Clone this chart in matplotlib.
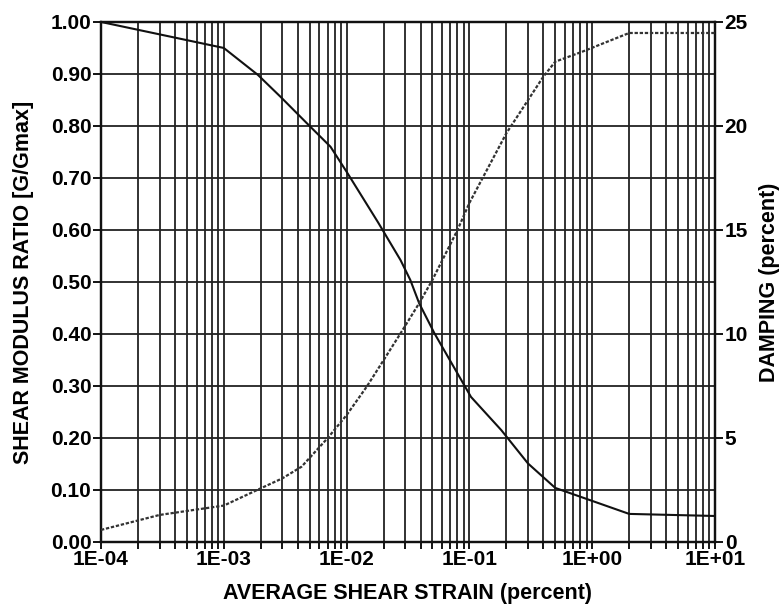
import numpy as np
import matplotlib.pyplot as plt
from matplotlib.ticker import LogLocator, FixedLocator, NullFormatter

# shear strain (percent) and modulus reduction
strain_g = [1e-4, 1e-3, 1.9e-3, 2.9e-3, 4.9e-3, 7.4e-3, 1e-2, 1.8e-2, 2.75e-2,
            3.3e-2, 3.9e-2, 5.2e-2, 1.03e-1, 1.82e-1, 3e-1, 5e-1, 2.0, 10.0]
g_ratio = [1.00, 0.95, 0.898, 0.856, 0.802, 0.760, 0.712, 0.615, 0.542,
           0.504, 0.459, 0.401, 0.279, 0.215, 0.151, 0.104, 0.054, 0.050]

# damping (percent)
strain_d = [1e-4, 3e-4, 1e-3, 2e-3, 3e-3, 4.3e-3, 7e-3, 1e-2, 1.46e-2, 1.89e-2,
            2.75e-2, 3.9e-2, 5e-2, 8e-2, 1e-1, 2e-1, 4e-1, 5e-1, 8.3e-1, 2.0, 10.0]
damping = [0.58, 1.3, 1.75, 2.58, 3.06, 3.62, 4.99, 6.1, 7.47, 8.51,
           10.03, 11.48, 12.6, 15.0, 16.3, 19.65, 22.37, 23.09, 23.57, 24.47, 24.47]

xticks = [1e-4, 1e-3, 1e-2, 1e-1, 1e0, 1e1]
xlabels = ["1E-04", "1E-03", "1E-02", "1E-01", "1E+00", "1E+01"]
yticks = np.round(np.arange(0, 1.01, 0.1), 2)
dticks = [0, 5, 10, 15, 20, 25]

plt.rcParams['font.family'] = ['Liberation Sans', 'DejaVu Sans']
plt.rcParams['font.weight'] = 'bold'

fig = plt.figure(figsize=(7.84, 6.10), dpi=100)
ax = fig.add_axes([0.1288, 0.1115, 0.912 - 0.1288, 0.964 - 0.1115])
ax2 = ax.twinx()

gc = '#222222'
ax.set_xscale('log')
ax.set_xlim(1e-4, 1e1)
ax.set_ylim(0, 1)
ax.xaxis.set_major_locator(FixedLocator(xticks))
ax.set_xticklabels(xlabels)
ax.xaxis.set_minor_locator(LogLocator(base=10, subs=np.arange(2, 10)))
ax.xaxis.set_minor_formatter(NullFormatter())
ax.set_yticks(yticks)
ax.set_yticklabels([f"{v:.2f}" for v in yticks])

ax.grid(True, which='both', axis='x', color=gc, lw=1.3)
ax.grid(True, which='major', axis='y', color=gc, lw=1.3)
ax.set_axisbelow(True)

ax.plot(strain_g, g_ratio, color='#111111', lw=1.5, zorder=5)
ax2.plot(strain_d, damping, color='#333333', lw=1.6, linestyle=(0, (1.5, 0.8)), zorder=5)

ax2.set_ylim(0, 25)
ax2.set_yticks(dticks)

for a in (ax, ax2):
    for s in a.spines.values():
        s.set_linewidth(1.6)
        s.set_color('#111111')

ax.tick_params(axis='x', which='major', direction='out', length=5, width=1.3,
               labelsize=15, pad=1)
ax.tick_params(axis='x', which='minor', direction='out', length=5, width=1.3)
ax.tick_params(axis='y', direction='out', length=6, width=1.3, labelsize=15, pad=1)
ax2.tick_params(axis='y', direction='out', length=6, width=1.3, labelsize=15, pad=1)

ax.set_xlabel("AVERAGE SHEAR STRAIN (percent)", fontsize=15.5, fontweight='bold', labelpad=10)
ax.set_ylabel("SHEAR MODULUS RATIO [G/Gmax]", fontsize=15.5, fontweight='bold', labelpad=12)
ax2.set_ylabel("DAMPING (percent)", fontsize=15.5, fontweight='bold', labelpad=8)

fig.savefig("out.png", dpi=100)
